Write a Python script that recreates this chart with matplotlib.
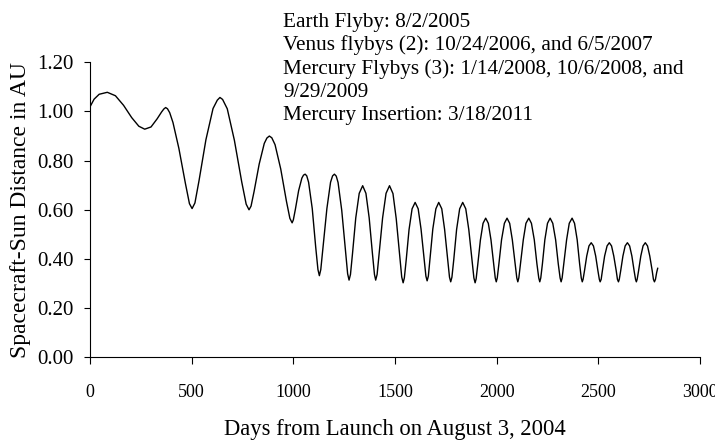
import matplotlib
matplotlib.use("Agg")
import matplotlib.pyplot as plt

# distance of the spacecraft from the sun
days = [
    0, 20, 45, 85, 125, 165, 205, 240, 269, 300, 330, 352, 363, 372, 381,
    392, 408, 437, 469, 489, 502,
    516, 536, 570, 605, 626, 639, 652,
    675, 710, 746, 768, 782,
    792, 807, 832, 857, 870, 882, 894,
    910, 938, 966, 983, 994,
    1000, 1010, 1026, 1042, 1050, 1058, 1066,
    1075, 1093, 1110, 1121, 1128,
    1135, 1146, 1165, 1183, 1193, 1202, 1211,
    1220, 1238, 1256, 1267, 1274,
    1281, 1291, 1307, 1324, 1341,
    1357, 1373, 1389, 1399, 1405,
    1412, 1422, 1439, 1456, 1473,
    1490, 1506, 1523, 1533, 1540,
    1546, 1555, 1569, 1584, 1599,
    1614, 1628, 1643, 1652, 1658,
    1664, 1672, 1686, 1701, 1715,
    1730, 1744, 1759, 1768, 1774,
    1780, 1789, 1803, 1818, 1833,
    1848, 1863, 1879, 1888, 1894,
    1899, 1907, 1920, 1933, 1946,
    1959, 1972, 1985, 1993, 1998,
    2003, 2011, 2024, 2038, 2051,
    2064, 2077, 2091, 2099, 2104,
    2109, 2117, 2131, 2144, 2158,
    2171, 2185, 2198, 2207, 2212,
    2217, 2225, 2237, 2250, 2263,
    2276, 2290, 2303, 2312, 2317,
    2322, 2330, 2344, 2357, 2371,
    2383, 2396, 2408, 2416, 2421,
    2425, 2432, 2443, 2454, 2465,
    2476, 2487, 2498, 2505, 2509,
    2514, 2520, 2531, 2543, 2554,
    2565, 2576, 2588, 2594, 2599,
    2603, 2610, 2621, 2632, 2643,
    2654, 2665, 2676, 2683, 2687,
    2691, 2698, 2709, 2720, 2731,
    2742, 2753, 2765, 2771, 2776,
    2781, 2787, 2792,
]
dist_au = [
    1.019, 1.050, 1.070, 1.078, 1.064, 1.025, 0.975, 0.940, 0.928, 0.937, 0.970, 0.998, 1.010, 1.016, 1.011,
    0.995, 0.955, 0.850, 0.708, 0.625, 0.605,
    0.628, 0.718, 0.885, 1.012, 1.046, 1.057, 1.049,
    1.011, 0.883, 0.714, 0.623, 0.600,
    0.615, 0.675, 0.786, 0.870, 0.892, 0.900, 0.893,
    0.865, 0.766, 0.635, 0.565, 0.547,
    0.559, 0.602, 0.678, 0.729, 0.741, 0.745, 0.738,
    0.712, 0.605, 0.448, 0.357, 0.332,
    0.357, 0.448, 0.605, 0.712, 0.738, 0.745, 0.737,
    0.711, 0.598, 0.435, 0.340, 0.314,
    0.337, 0.422, 0.567, 0.667, 0.698,
    0.667, 0.567, 0.422, 0.337, 0.314,
    0.337, 0.422, 0.567, 0.667, 0.698,
    0.666, 0.564, 0.414, 0.327, 0.303,
    0.323, 0.395, 0.519, 0.604, 0.630,
    0.604, 0.522, 0.400, 0.330, 0.311,
    0.330, 0.400, 0.522, 0.604, 0.630,
    0.604, 0.520, 0.397, 0.326, 0.307,
    0.326, 0.397, 0.520, 0.604, 0.630,
    0.604, 0.519, 0.395, 0.323, 0.303,
    0.319, 0.377, 0.477, 0.545, 0.566,
    0.545, 0.478, 0.380, 0.323, 0.307,
    0.323, 0.380, 0.478, 0.545, 0.566,
    0.545, 0.478, 0.380, 0.323, 0.307,
    0.323, 0.380, 0.478, 0.545, 0.566,
    0.545, 0.478, 0.380, 0.323, 0.307,
    0.323, 0.380, 0.478, 0.545, 0.566,
    0.545, 0.478, 0.380, 0.323, 0.307,
    0.323, 0.380, 0.478, 0.545, 0.566,
    0.545, 0.478, 0.380, 0.323, 0.307,
    0.317, 0.352, 0.412, 0.453, 0.466,
    0.453, 0.412, 0.352, 0.317, 0.307,
    0.317, 0.352, 0.412, 0.453, 0.466,
    0.453, 0.412, 0.352, 0.317, 0.307,
    0.317, 0.352, 0.412, 0.453, 0.466,
    0.453, 0.412, 0.352, 0.317, 0.307,
    0.317, 0.352, 0.412, 0.453, 0.466,
    0.453, 0.412, 0.352, 0.317, 0.307,
    0.317, 0.345, 0.362,
]

x_ticks = [0, 500, 1000, 1500, 2000, 2500, 3000]
y_ticks = [0.0, 0.2, 0.4, 0.6, 0.8, 1.0, 1.2]

notes = [
    "Earth Flyby: 8/2/2005",
    "Venus flybys (2): 10/24/2006, and 6/5/2007",
    "Mercury Flybys (3): 1/14/2008, 10/6/2008, and",
    "9/29/2009",
    "Mercury Insertion: 3/18/2011",
]

plt.rcParams["font.family"] = ["Liberation Serif", "DejaVu Serif"]

fig = plt.figure(figsize=(7.15, 4.47), dpi=100)
ax = fig.add_axes([0.1259, 0.2007, 0.8531, 0.6599])

ax.plot(days, dist_au, color="black", lw=1.0)

ax.set_xlim(0, 3000)
ax.set_ylim(0, 1.2)
ax.set_xticks(x_ticks)
ax.set_yticks(y_ticks)
ax.set_yticklabels([f"{v:.2f}" for v in y_ticks])
ax.tick_params(axis="y", direction="out", length=4.5, width=0.8, labelsize=15, pad=7)
ax.tick_params(axis="x", direction="out", length=5, width=0.8, labelsize=13, pad=14)

for side in ["top", "right"]:
    ax.spines[side].set_visible(False)
for side in ["left", "bottom"]:
    ax.spines[side].set_linewidth(0.8)

ax.set_ylabel("Spacecraft-Sun Distance in AU", fontsize=17, labelpad=5)
ax.set_xlabel("Days from Launch on August 3, 2004", fontsize=16.3, labelpad=13)

fig.text(0.396, 0.972, "\n".join(notes), fontsize=15.3, va="top", ha="left",
         linespacing=1.27)

fig.savefig("out.png", dpi=100)
